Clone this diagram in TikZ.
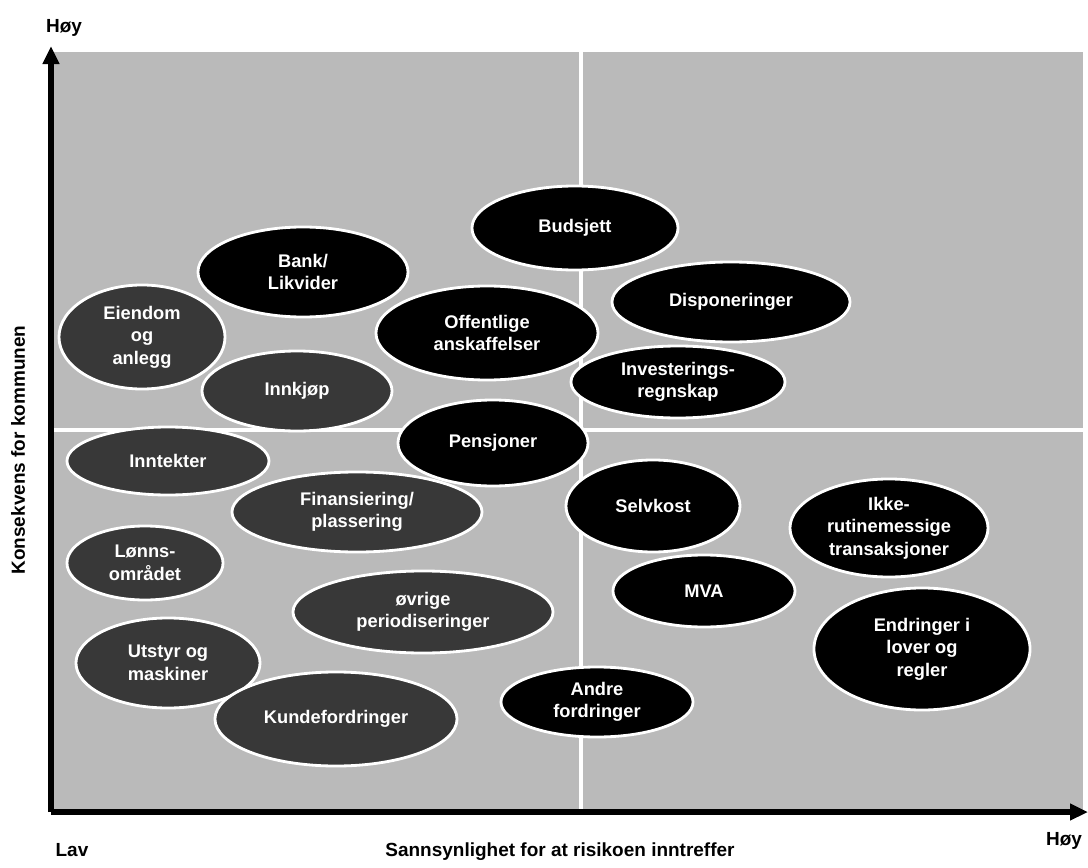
\documentclass[tikz,border=0pt]{standalone}
\usepackage{fontspec}
\setmainfont{Liberation Sans}
\usetikzlibrary{shapes.geometric, arrows.meta}

\begin{document}
\begin{tikzpicture}[x = 0.025cm, y = -0.025cm,
	hi/.style = {ellipse, fill = black, draw = white, line width = 2pt, text = white, align = center, inner sep = 0pt, font = \bfseries\fontsize{13}{16}\selectfont},
	lo/.style = {hi, fill = black!78},
	lbl/.style = {font = \bfseries\fontsize{13.5}{16}\selectfont}]
	\def\xo{51};
	\def\yo{812};
	\def\xm{581};
	\def\ym{430};

	\useasboundingbox (0,0) rectangle (1088,868);
	\fill [black!27] (\xo,52) rectangle (1083,\yo);

	% quadrant lines
	\draw [white, line width = 2.2pt] (\xm,52) -- (\xm,\yo);
	\draw [white, line width = 2.2pt] (\xo,\ym) -- (1083,\ym);

	\draw [line width = 3.8pt, -{Triangle[length = 0.45cm, width = 0.4cm]}] (\xo,\yo) -- (\xo,46);
	\draw [line width = 3.8pt, -{Triangle[length = 0.45cm, width = 0.4cm]}] (\xo,\yo) -- (1088,\yo);

	\node [lbl] (hoyy) at (64,28) {Høy};
	\node [lbl] (lav) at (72,850) {Lav};
	\node [lbl] (hoyx) at (1064,841) {Høy};
	\node [lbl] (xlab) at (560,852) {Sannsynlighet for at risikoen inntreffer};
	\node [lbl, rotate = 90] (ylab) at (18,450) {Konsekvens for kommunen};

	% high-consequence items
	\node [hi, minimum width = 5.15cm, minimum height = 2.1cm] (budsjett) at (575,228) {Budsjett};
	\node [hi, minimum width = 5.25cm, minimum height = 2.25cm] (bank) at (303,272) {Bank/\\Likvider};
	\node [hi, minimum width = 5.95cm, minimum height = 2.0cm] (disp) at (731,302) {Disponeringer};
	\node [hi, minimum width = 5.55cm, minimum height = 2.35cm] (offentlige) at (487,333) {Offentlige\\anskaffelser};
	\node [hi, minimum width = 5.35cm, minimum height = 1.8cm] (invest) at (678,382) {Investerings-\\regnskap};
	\node [hi, minimum width = 4.75cm, minimum height = 2.15cm] (pensjoner) at (493,443) {Pensjoner};
	\node [hi, minimum width = 4.35cm, minimum height = 2.3cm] (selvkost) at (653,506) {Selvkost};
	\node [hi, minimum width = 4.95cm, minimum height = 2.45cm] (ikke) at (889,528) {Ikke-\\rutinemessige\\transaksjoner};
	\node [hi, minimum width = 4.55cm, minimum height = 1.8cm] (mva) at (704,591) {MVA};
	\node [hi, minimum width = 5.4cm, minimum height = 3.05cm] (endringer) at (922,649) {Endringer i\\lover og\\regler};
	\node [hi, minimum width = 4.8cm, minimum height = 1.75cm] (andre) at (597,702) {Andre\\fordringer};

	% lower-consequence items
	\node [lo, minimum width = 4.15cm, minimum height = 2.6cm] (eiendom) at (142,337) {Eiendom\\og\\anlegg};
	\node [lo, minimum width = 4.75cm, minimum height = 2.0cm] (innkjop) at (297,391) {Innkjøp};
	\node [lo, minimum width = 5.05cm, minimum height = 1.7cm] (inntekter) at (168,461) {Inntekter};
	\node [lo, minimum width = 6.25cm, minimum height = 2.0cm] (finans) at (357,512) {Finansiering/\\plassering};
	\node [lo, minimum width = 3.9cm, minimum height = 1.85cm] (lonn) at (145,563) {Lønns-\\området};
	\node [lo, minimum width = 6.5cm, minimum height = 2.05cm] (ovrige) at (423,612) {øvrige\\periodiseringer};
	\node [lo, minimum width = 4.6cm, minimum height = 2.25cm] (utstyr) at (168,663) {Utstyr og\\maskiner};
	\node [lo, minimum width = 6.05cm, minimum height = 2.35cm] (kunde) at (336,719) {Kundefordringer};
\end{tikzpicture}
\end{document}
